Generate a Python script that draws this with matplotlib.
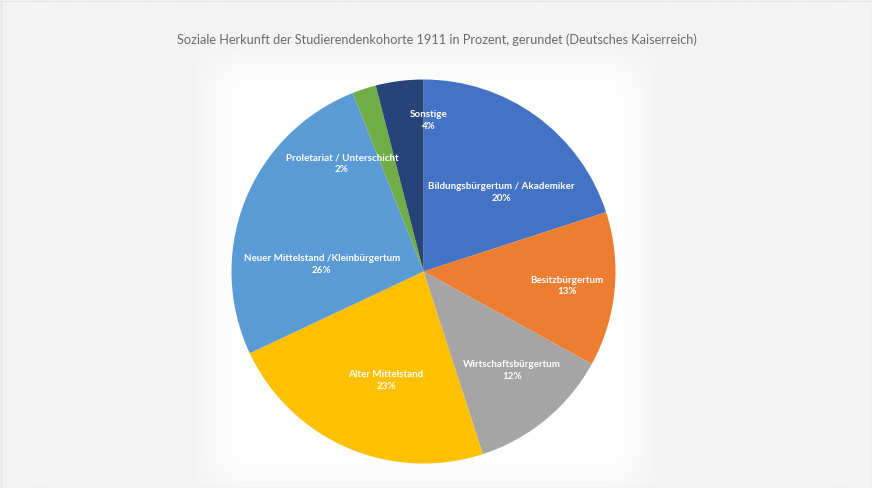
import numpy as np
import matplotlib
matplotlib.use("Agg")
import matplotlib.pyplot as plt

categories = [
    "Bildungsbürgertum / Akademiker",
    "Besitzbürgertum",
    "Wirtschaftsbürgertum",
    "Alter Mittelstand",
    "Neuer Mittelstand /Kleinbürgertum",
    "Proletariat / Unterschicht",
    "Sonstige",
]
values = [20, 13, 12, 23, 26, 2, 4]
colors = ["#4472C4", "#ED7D31", "#A5A5A5", "#FFC000", "#5B9BD5", "#70AD47", "#264478"]
title = "Soziale Herkunft der Studierendenkohorte 1911 in Prozent, gerundet (Deutsches Kaiserreich)"

# label positions (data coords, pie radius = 1)
label_pos = [(0.404, 0.411), (0.747, -0.076), (0.461, -0.516), (-0.195, -0.568),
             (-0.529, 0.036), (-0.424, 0.560), (0.029, 0.786)]

W, H = 872, 488
fig = plt.figure(figsize=(W / 100, H / 100), dpi=100)
fig.patch.set_facecolor("#f4f4f4")

# soft white glow behind the pie
bg = fig.add_axes([0, 0, 1, 1])
bg.set_xlim(0, W)
bg.set_ylim(H, 0)
bg.axis("off")
yy, xx = np.mgrid[0:H, 0:W]
def soft(a, lo, hi, w):
    return np.clip((a - lo) / w, 0, 1) * np.clip((hi - a) / w, 0, 1)
mask = soft(xx, 195, 655, 45) * soft(yy, 45, 500, 45)
mask = mask ** 0.7
base = np.array([0xf4, 0xf4, 0xf4]) / 255.0
img = base[None, None, :] * (1 - mask[..., None]) + np.ones(3)[None, None, :] * mask[..., None]
bg.imshow(img, extent=[0, W, H, 0], aspect="auto", zorder=0)
# thin border
bg.plot([0.5, W - 0.5, W - 0.5, 0.5, 0.5], [0.5, 0.5, H - 0.5, H - 0.5, 0.5],
        color="#e4e4e4", lw=1)

cx, cy, r = 423.5, 271.5, 192
ax = fig.add_axes([(cx - r) / W, (H - cy - r) / H, 2 * r / W, 2 * r / H])
ax.pie(values, colors=colors, startangle=90, counterclock=False, radius=1,
       wedgeprops=dict(linewidth=0))
ax.set_xlim(-1, 1)
ax.set_ylim(-1, 1)
ax.set_aspect("equal")
ax.axis("off")

for cat, v, (x, y) in zip(categories, values, label_pos):
    ax.text(x, y, f"{cat}\n{v}%", ha="center", va="center", color="white",
            fontsize=7.1, fontweight="bold", family="Lato", linespacing=1.4)

fig.text(436.7 / W, 1 - 40 / H, title, ha="center", va="center", color="#6b6b6b",
         fontsize=9.2, family="Lato", fontweight="normal")

fig.savefig("out.png", dpi=100, facecolor=fig.get_facecolor())
